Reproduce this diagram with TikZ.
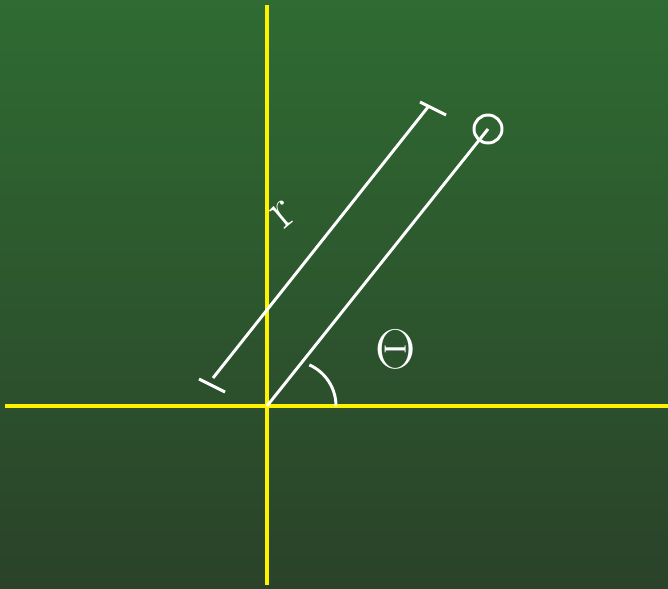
\documentclass[tikz,border=0pt]{standalone}
\usepackage{tikz}
\usetikzlibrary{calc}
\definecolor{boardtop}{RGB}{47,107,50}
\definecolor{boardbottom}{RGB}{42,66,41}

\begin{document}
\begin{tikzpicture}[
    x=0.025cm,
    y=-0.025cm,
    axis/.style={
        draw=yellow,
        line width=2.2pt
    },
    chalk/.style={
        draw=white,
        line width=2.1pt
    },
    chalktext/.style={
        text=white,
        inner sep=0pt,
        font=\Huge,
        scale=1.6,
        transform shape
    }
]

% Pizarra
\shade[top color=boardtop, bottom color=boardbottom] (0,0) rectangle (668,589);
\useasboundingbox (0,0) rectangle (668,589);

% Ejes
\coordinate (O) at (267,406);
\coordinate (ytop) at (267,5);
\coordinate (ybot) at (267,585);
\coordinate (xleft) at (5,406);
\coordinate (xright) at (668,406);
\draw[axis] (ytop) -- (ybot);
\draw[axis] (xleft) -- (xright);

% Radio y punto
\coordinate (P) at (488,129);
\draw[chalk] (O) -- (P);
\draw[chalk] (P) circle (14);

% Cota del radio
\coordinate (rlow) at (213,378);
\coordinate (rup) at (428,107);
\draw[chalk] (rlow) -- (rup);
\draw[chalk] (199,379) -- (225,392);
\draw[chalk] (420,102) -- (446,115);
\node[chalktext, rotate=40] (rlabel) at (283,215) {r};

% Angulo
\draw[chalk] (336,406) arc[start angle=0, end angle=-66, radius=45];
\node[chalktext] (theta) at (396,349) {$\Theta$};

\end{tikzpicture}
\end{document}
